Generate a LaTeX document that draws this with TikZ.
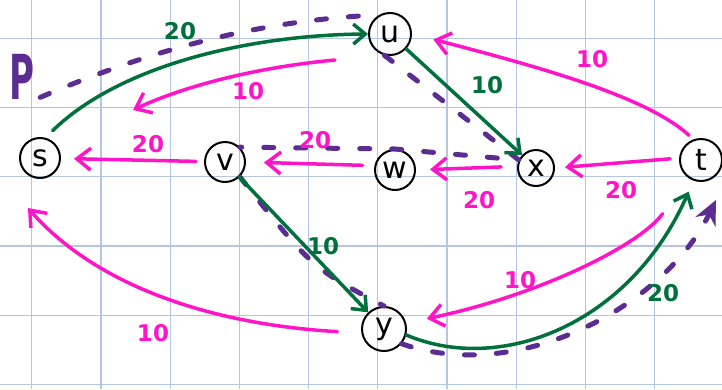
\documentclass[tikz,border=0pt]{standalone}
\usepackage{fontspec}
\setmainfont{DejaVu Sans}
\usepackage{xcolor}
\usepackage{tikz}
\usetikzlibrary{arrows.meta}
\definecolor{flowpink}{RGB}{255,20,200}
\definecolor{flowgreen}{RGB}{0,112,60}
\definecolor{pathpurple}{RGB}{92,45,145}
\definecolor{gridblue}{RGB}{180,198,224}

\begin{document}
\begin{tikzpicture}[x=1pt,y=-1pt]
\tikzset{vx/.style={circle, draw, line width=2pt, minimum size=40pt, inner sep=0pt, font=\fontsize{30}{30}\selectfont},
  res/.style={flowpink, line width=3.5pt, line cap=round, -{Straight Barb[length=14pt,width=22pt]}},
  flw/.style={flowgreen, line width=3.5pt, line cap=round, -{Straight Barb[length=12pt,width=20pt]}},
  aug/.style={pathpurple, line width=5pt, line cap=round, dash pattern=on 10pt off 22pt},
  reslab/.style={flowpink, inner sep=0pt, font=\fontsize{23}{23}\selectfont\bfseries},
  flwlab/.style={flowgreen, inner sep=0pt, font=\fontsize{23}{23}\selectfont\bfseries},
  gridln/.style={gridblue, line width=1.2pt}};
\useasboundingbox (0,0) rectangle (722,389);
\fill[white] (0,0) rectangle (722,389);
\foreach \k in {0,...,9} \draw[gridln] ({31.7+69.2*\k},0) -- ++(0,389);
\foreach \k in {0,...,5} \draw[gridln] (0,{38.3+69.2*\k}) -- ++(722,0);

\node [vx] (s) at (40,158) {s};
\node [vx] (v) at (225,162) {v};
\node [vx] (w) at (395,170) {w};
\node [vx, minimum size=36pt] (x) at (536,168) {x};
\node [vx, minimum size=42pt] (t) at (701,160) {t};
\node [vx, minimum size=42pt] (u) at (390,34) {u};
\node [vx, minimum size=44pt] (y) at (384,329) {y};
\node [pathpurple, inner sep=0pt, font=\fontsize{62}{62}\selectfont\bfseries] (plabel) at (22,77) {\scalebox{0.55}[1]{P}};

\coordinate (us1) at (335,60);
\coordinate (us2) at (133,110);
\coordinate (ys) at (28,208);
\coordinate (pend) at (716,200);

\draw [aug, shorten <=6pt] (plabel.south east) .. controls (150,50) and (260,20) .. (u.120);
\draw [aug] (u.255) -- (x.155) -- (w.north) -- (v.north east);
\draw [aug] (v.south east) .. controls (312,268) .. (y.north);
\draw [aug, -{Stealth[length=24pt,width=22pt]}] (y.320) .. controls (520,385) and (665,305) .. (pend);

\draw [res, shorten <=8pt, shorten >=13pt] (v) -- (s);
\draw [res, shorten <=12pt, shorten >=18pt] (w.168) -- (v.east);
\draw [res, shorten <=16pt, shorten >=14pt] (x.175) -- (w.east);
\draw [res, shorten <=9pt, shorten >=10pt] (t.175) -- (x.east);
\draw [res, shorten <=6pt, shorten >=22pt] (t.110) .. controls (650,100) and (560,72) .. (u.east);
\draw [res] (us1) .. controls (250,68) and (180,88) .. (us2);
\draw [res, shorten <=24pt] (y.190) .. controls (220,325) and (100,290) .. (ys);
\draw [res, shorten <=44pt, shorten >=21pt] (t.235) .. controls (640,245) and (540,295) .. (y.15);

\draw [flw, shorten <=10pt] (s.75) .. controls (120,65) and (250,35) .. (u.west);
\draw [flw] (u) -- (x);
\draw [flw] (v) -- (y);
\draw [flw, shorten >=12pt] (y.345) .. controls (500,375) and (630,325) .. (t.250);

\node [reslab] (lvs) at (148,144) {20};
\node [reslab] (lus) at (248,91) {10};
\node [reslab] (lwv) at (315,140) {20};
\node [reslab] (lxw) at (479,200) {20};
\node [reslab] (ltx) at (621,190) {20};
\node [reslab] (ltu) at (592,59) {10};
\node [reslab] (lys) at (153,333) {10};
\node [reslab] (lty) at (520,280) {10};
\node [flwlab] (lsu) at (180,31) {20};
\node [flwlab] (lux) at (487,85) {10};
\node [flwlab] (lvy) at (323,246) {10};
\node [flwlab] (lyt) at (663,293) {20};
\end{tikzpicture}
\end{document}
